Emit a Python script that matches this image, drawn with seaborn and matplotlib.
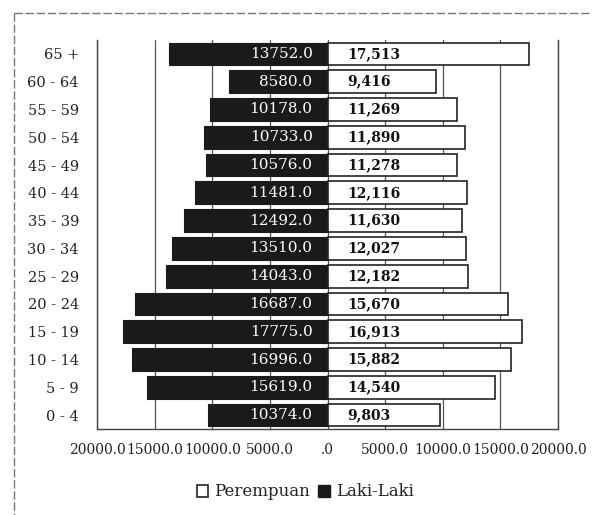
import matplotlib
matplotlib.use("Agg")
import matplotlib.pyplot as plt
import seaborn as sns
import pandas as pd
from matplotlib.lines import Line2D
from matplotlib.patches import Patch

age_groups = ["65 +", "60 - 64", "55 - 59", "50 - 54", "45 - 49", "40 - 44", "35 - 39",
              "30 - 34", "25 - 29", "20 - 24", "15 - 19", "10 - 14", "5 - 9", "0 - 4"]
laki_laki = [13752.0, 8580.0, 10178.0, 10733.0, 10576.0, 11481.0, 12492.0,
             13510.0, 14043.0, 16687.0, 17775.0, 16996.0, 15619.0, 10374.0]
perempuan = [17513, 9416, 11269, 11890, 11278, 12116, 11630,
             12027, 12182, 15670, 16913, 15882, 14540, 9803]
x_ticks = [-20000, -15000, -10000, -5000, 0, 5000, 10000, 15000, 20000]
x_tick_labels = ["20000.0", "15000.0", "10000.0", "5000.0", ".0",
                 "5000.0", "10000.0", "15000.0", "20000.0"]

sns.set_theme(style="white")
plt.rcParams["font.family"] = ["DejaVu Serif", "DejaVu Sans"]

df = pd.DataFrame({"age": age_groups,
                   "laki": [-v for v in laki_laki],
                   "perempuan": perempuan})

fig = plt.figure(figsize=(5.92, 5.15), dpi=100)
ax = fig.add_axes([97 / 592, 1 - 429 / 515, 461 / 592, 389 / 515])

for xv in x_ticks:
    ax.axvline(xv, color="#555555", lw=0.9, zorder=0)

sns.barplot(data=df, y="age", x="laki", order=age_groups, color="#1a1a1a",
            saturation=1, width=0.82, orient="h", ax=ax, zorder=2,
            edgecolor="#1a1a1a", linewidth=0.8)
sns.barplot(data=df, y="age", x="perempuan", order=age_groups, color="white",
            saturation=1, width=0.82, orient="h", ax=ax, zorder=2,
            edgecolor="#222222", linewidth=1.2)

for i, (l, p) in enumerate(zip(laki_laki, perempuan)):
    ax.text(-1300, i, f"{l:.1f}", color="white", ha="right", va="center",
            fontsize=11, zorder=3)
    ax.text(1700, i, f"{p:,}", color="#111111", ha="left", va="center",
            fontsize=10, fontweight="bold", zorder=3)

ax.set_xlim(-20000, 20000)
ax.set_ylim(len(age_groups) - 0.5, -0.5)
ax.set_xticks(x_ticks)
ax.set_xticklabels(x_tick_labels, fontsize=10, color="#222222")
ax.tick_params(axis="x", length=0, pad=10)
ax.tick_params(axis="y", length=0, pad=13, labelsize=10.5, labelcolor="#222222")
ax.set_xlabel("")
ax.set_ylabel("")
for s in ["left", "right", "bottom"]:
    ax.spines[s].set_visible(True)
    ax.spines[s].set_color("#444444")
    ax.spines[s].set_linewidth(1.0)
ax.spines["top"].set_visible(False)

handles = [Patch(facecolor="white", edgecolor="#222222", linewidth=1.2, label="Perempuan"),
           Patch(facecolor="#1a1a1a", edgecolor="#1a1a1a", label="Laki-Laki")]
fig.legend(handles=handles, loc="center", bbox_to_anchor=(305 / 592, 1 - 492 / 515),
           ncol=2, frameon=False, fontsize=12, handlelength=0.7, handleheight=0.7,
           handletextpad=0.35, columnspacing=0.5, labelcolor="#222222")

fig.add_artist(Line2D([14 / 592, 590 / 592], [1 - 13 / 515, 1 - 13 / 515],
                      transform=fig.transFigure, color="#777777", lw=1.0,
                      linestyle=(0, (6, 2))))
fig.add_artist(Line2D([14 / 592, 14 / 592], [1 - 13 / 515, 0],
                      transform=fig.transFigure, color="#777777", lw=1.0,
                      linestyle=(0, (6, 2))))

fig.savefig("out.png", dpi=100)
